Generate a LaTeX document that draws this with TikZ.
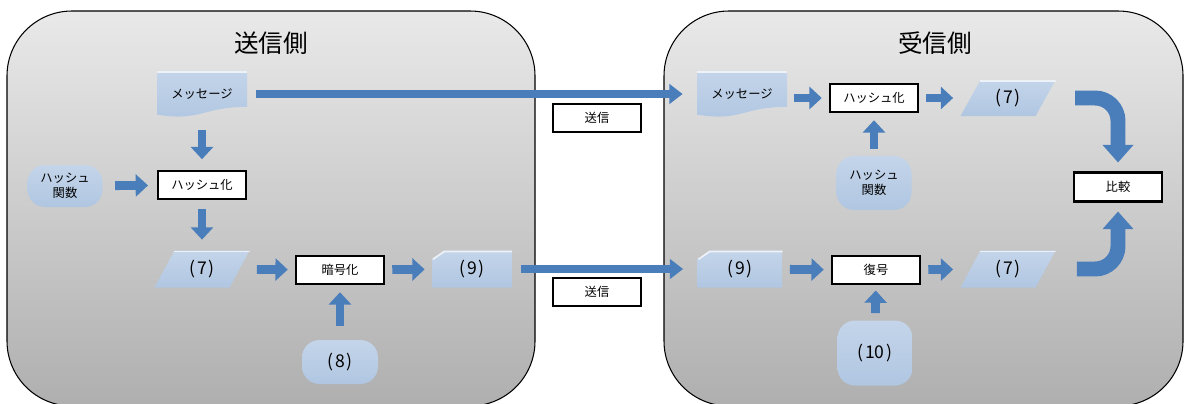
\documentclass[tikz,border=0pt]{standalone}
\usepackage{fontspec}
\setmainfont{Noto Sans CJK JP}
\usetikzlibrary{arrows.meta,calc}
\definecolor{shapeblue}{HTML}{B0C6E1}
\definecolor{shapelite}{HTML}{C4D5EA}
\definecolor{arrowblue}{HTML}{4A7EBB}
\definecolor{paneltop}{HTML}{E9E9E9}
\definecolor{panelbot}{HTML}{AFAFAF}
\newcommand\pxu[1]{#1*0.02cm}
\newcommand\num[1]{(\hspace{0.12em}#1\hspace{0.12em})}
\tikzset{
  panel/.style={draw=black, line width=0.6pt, top color=paneltop, bottom color=panelbot, rounded corners=1.3cm},
  sidetitle/.style={font=\fontsize{14}{16}\selectfont},
  procbox/.style={draw=black, line width=1.4pt, fill=white, inner sep=0pt,
    minimum width=\pxu{88}, minimum height=\pxu{28}, font=\fontsize{7}{8}\selectfont},
  bluebase/.style={inner sep=0pt, align=center, font=\fontsize{7}{8.5}\selectfont},
  numtext/.style={font=\fontsize{10}{12}\selectfont},
  docshape/.style={bluebase, path picture={
    \shade[top color=shapelite, bottom color=shapeblue]
      let \p1=(path picture bounding box.south west), \p2=(path picture bounding box.north east),
          \n1={\x2-\x1}, \n2={\y2-\y1} in
      (\x1,\y2) -- (\x2,\y2) -- (\x2,{\y1+0.22*\n2})
      .. controls ({\x1+0.5*\n1},{\y1+0.22*\n2}) and ({\x1+0.5*\n1},{\y1-0.1*\n2}) .. (\x1,{\y1+0.05*\n2}) -- cycle;
    \draw[white, opacity=0.7, line width=1pt]
      let \p1=(path picture bounding box.south west), \p2=(path picture bounding box.north east) in
      (\x1,{\y2-0.5pt}) -- (\x2,{\y2-0.5pt});}},
  parashape/.style={bluebase, numtext, path picture={
    \shade[top color=shapelite, bottom color=shapeblue]
      let \p1=(path picture bounding box.south west), \p2=(path picture bounding box.north east),
          \n1={\x2-\x1} in
      ({\x1+0.21*\n1},\y2) -- (\x2,\y2) -- ({\x2-0.21*\n1},\y1) -- (\x1,\y1) -- cycle;
    \draw[white, opacity=0.7, line width=1pt]
      let \p1=(path picture bounding box.south west), \p2=(path picture bounding box.north east),
          \n1={\x2-\x1} in
      ({\x1+0.21*\n1},{\y2-0.5pt}) -- (\x2,{\y2-0.5pt});}},
  cardshape/.style={bluebase, numtext, path picture={
    \shade[top color=shapelite, bottom color=shapeblue]
      let \p1=(path picture bounding box.south west), \p2=(path picture bounding box.north east) in
      ({\x1+7pt},\y2) -- (\x2,\y2) -- (\x2,\y1) -- (\x1,\y1) -- (\x1,{\y2-5pt}) -- cycle;
    \draw[white, opacity=0.7, line width=1pt]
      let \p1=(path picture bounding box.south west), \p2=(path picture bounding box.north east) in
      ({\x1+0.5pt},{\y2-5pt}) -- ({\x1+7pt},{\y2-0.5pt}) -- (\x2,{\y2-0.5pt});}},
  termshape/.style={bluebase, rounded corners=10pt, top color=shapelite, bottom color=shapeblue},
  arr/.style={draw=arrowblue, line width=5pt, -{Triangle[length=7pt,width=12.5pt]},
    shorten <=4pt, shorten >=4pt},
  longarr/.style={draw=arrowblue, line width=4.2pt, -{Triangle[length=7.5pt,width=11pt]},
    shorten <=5pt, shorten >=8pt},
  bentarr/.style={draw=arrowblue, line width=8.5pt, -{Triangle[length=10pt,width=17pt]},
    rounded corners=13pt, shorten >=5pt}
}
\begin{document}
\begin{tikzpicture}[x=0.02cm,y=-0.02cm]
\useasboundingbox (0,0) rectangle (1189,403);
% panels
\path[panel] (7,11) rectangle (535,406);
\path[panel] (664,11) rectangle (1183,406);
\node[sidetitle] (tL) at (271,43) {送信側};
\node[sidetitle] (tR) at (935,43) {受信側};

% sender
\node[docshape, minimum width=\pxu{90}, minimum height=\pxu{46}] (msgL) at (202,94) {メッセージ};
\node[procbox] (hashL) at (202,185) {ハッシュ化};
\node[termshape, minimum width=\pxu{75}, minimum height=\pxu{42}] (hfL) at (65,186) {ハッシュ\\関数};
\node[parashape, minimum width=\pxu{95}, minimum height=\pxu{37}] (h7L) at (202,269) {\num{7}};
\node[procbox] (encL) at (340,270) {暗号化};
\node[termshape, numtext, minimum width=\pxu{76}, minimum height=\pxu{44}] (k8) at (340,362) {\num{8}};
\node[cardshape, minimum width=\pxu{80}, minimum height=\pxu{37}] (c9L) at (472,269) {\num{9}};

% send labels
\node[procbox] (send1) at (597,118) {送信};
\node[procbox] (send2) at (597,292) {送信};

% receiver
\node[docshape, minimum width=\pxu{90}, minimum height=\pxu{46}] (msgR) at (742,94) {メッセージ};
\node[procbox] (hashR) at (874,98) {ハッシュ化};
\node[parashape, minimum width=\pxu{95}, minimum height=\pxu{36}] (h7R1) at (1008,98) {\num{7}};
\node[termshape, minimum width=\pxu{75}, minimum height=\pxu{54}] (hfR) at (874,183) {ハッシュ\\関数};
\node[procbox, minimum width=\pxu{88}, minimum height=\pxu{29}] (cmp) at (1118,187) {比較};
\node[cardshape, minimum width=\pxu{85}, minimum height=\pxu{37}] (c9R) at (740,269) {\num{9}};
\node[procbox] (dec) at (876,270) {復号};
\node[parashape, minimum width=\pxu{95}, minimum height=\pxu{37}] (h7R2) at (1008,269) {\num{7}};
\node[termshape, numtext, minimum width=\pxu{75}, minimum height=\pxu{65}] (k10) at (875,353) {\num{10}};

% sender arrows
\draw[arr, shorten <=7pt, shorten >=6pt] (msgL) -- (hashL);
\draw[arr, shorten <=7pt, shorten >=5pt] (hfL) -- (hashL);
\draw[arr, shorten <=5pt, shorten >=6pt] (hashL) -- (h7L);
\draw[arr] (h7L) -- (encL);
\draw[arr, shorten <=8pt, shorten >=4pt] (k8) -- (encL);
\draw[arr] (encL) -- (c9L);

% transmission
\draw[longarr] (msgL.east) -- (msgR.west);
\draw[longarr] (c9L.east) -- (c9R.west);

% receiver arrows
\draw[arr] (msgR.east |- hashR.west) -- (hashR.west);
\draw[arr] (hashR) -- (h7R1);
\draw[arr, shorten <=4pt, shorten >=4pt] (hfR) -- (hashR);
\draw[arr] (c9R) -- (dec);
\draw[arr] (dec) -- (h7R2);
\draw[arr, shorten <=4pt, shorten >=3pt] (k10) -- (dec);
\draw[bentarr] ([xshift=11pt]h7R1.east) -| (cmp.north);
\draw[bentarr] ([xshift=12pt]h7R2.east) -| (cmp.south);
\end{tikzpicture}
\end{document}
